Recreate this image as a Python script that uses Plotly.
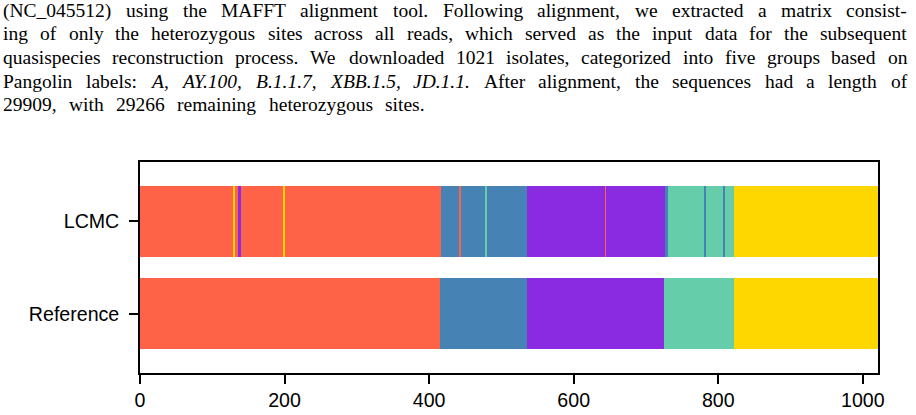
import plotly.graph_objects as go

# ---------------- data ----------------
groups = ["A", "AY.100", "B.1.1.7", "XBB.1.5", "JD.1.1"]
group_colors = ["tomato", "steelblue", "blueviolet", "mediumaquamarine", "gold"]
rows = ["Reference", "LCMC"]

# run-length encoding of per-isolate group labels (isolates ordered 0..1020)
reference_runs_group = ["A", "AY.100", "B.1.1.7", "XBB.1.5", "JD.1.1"]
reference_runs_len = [415, 121, 189, 97, 199]

lcmc_runs_group = ["A", "JD.1.1", "A", "B.1.1.7", "A", "JD.1.1", "A",
                   "AY.100", "A", "AY.100", "XBB.1.5", "AY.100",
                   "B.1.1.7", "A", "B.1.1.7",
                   "AY.100", "XBB.1.5", "AY.100", "XBB.1.5", "AY.100", "XBB.1.5",
                   "JD.1.1"]
lcmc_runs_len = [130, 2, 3, 5, 58, 2, 217,
                 24, 3, 33, 3, 55,
                 108, 2, 81,
                 5, 49, 3, 24, 3, 12,
                 199]

x_ticks = [0, 200, 400, 600, 800, 1000]
n_isolates = 1021

paragraph_lines = [
    "(NC_045512) using the MAFFT alignment tool. Following alignment, we extracted a matrix consist-",
    "ing of only the heterozygous sites across all reads, which served as the input data for the subsequent",
    "quasispecies reconstruction process. We downloaded 1021 isolates, categorized into five groups based on",
    "Pangolin labels: <i>A,</i> <i>AY.100,</i> <i>B.1.1.7,</i> <i>XBB.1.5,</i> <i>JD.1.1.</i> After alignment, the sequences had a length of",
    "29909, with 29266 remaining heterozygous sites.",
]

# ---------------- layout constants (pixels) ----------------
W, H = 916, 415
L, R, T, B = 140, 878, 162, 373
SANS = "Liberation Sans"
SANS_SIZE = 19.6
SERIF = "Liberation Serif"
SERIF_SIZE = 19.5
line_left = 3
line_right = [907, 907, 907, 907, 425]
line_base = [17.5, 40.5, 64.0, 87.6, 111.0]

# Times metrics (per 1000 em) for justification
roman = dict(zip("abcdefghijklmnopqrstuvwxyz",
                 [444, 500, 444, 500, 444, 333, 500, 500, 278, 278, 500, 278, 778,
                  500, 500, 500, 500, 333, 389, 278, 500, 500, 722, 500, 500, 444]))
roman.update({"A": 722, "B": 667, "C": 667, "D": 722, "F": 556, "J": 389, "L": 611,
              "M": 889, "N": 722, "P": 556, "T": 611, "W": 944, "X": 722, "Y": 722,
              "(": 333, ")": 333, "_": 500, ".": 250, ",": 250, ":": 278, "-": 333})
for d in "0123456789":
    roman[d] = 500
italic = dict(roman)
italic.update({"A": 611, "Y": 556, "B": 611, "X": 611, "J": 444, "D": 722})


def word_width(word):
    it = word.startswith("<i>")
    plain = word.replace("<i>", "").replace("</i>", "")
    tbl = italic if it else roman
    return sum(tbl.get(c, 500) for c in plain) / 1000.0 * SERIF_SIZE


def px_to_paper_x(px):
    return (px - L) / (R - L)


def px_to_paper_y(py):
    return (B - py) / (B - T)


# ---------------- figure ----------------
fig = go.Figure()

segments = {g: {"y": [], "base": [], "x": []} for g in groups}
for row, rg, rl in [("Reference", reference_runs_group, reference_runs_len),
                    ("LCMC", lcmc_runs_group, lcmc_runs_len)]:
    start = 0
    for g, n in zip(rg, rl):
        segments[g]["y"].append(row)
        segments[g]["base"].append(start)
        segments[g]["x"].append(n)
        start += n

for g, col in zip(groups, group_colors):
    s = segments[g]
    fig.add_trace(go.Bar(
        y=s["y"], x=s["x"], base=s["base"], orientation="h",
        marker=dict(color=col, line=dict(width=0)),
        width=0.765, name=g, showlegend=False,
    ))

annotations = []
for i, line in enumerate(paragraph_lines):
    words = line.split(" ")
    widths = [word_width(w) for w in words]
    total = line_right[i] - line_left
    gap = (total - sum(widths)) / (len(words) - 1) if len(words) > 1 else 0
    x = line_left
    for w, wd in zip(words, widths):
        annotations.append(dict(
            text=w, x=px_to_paper_x(x), y=px_to_paper_y(line_base[i] - 0.3375 * SERIF_SIZE),
            xref="paper", yref="paper", xanchor="left", yanchor="middle",
            showarrow=False, borderpad=0, borderwidth=0,
            font=dict(family=SERIF, size=SERIF_SIZE, color="black"),
        ))
        x += wd + gap

fig.update_layout(
    width=W, height=H,
    margin=dict(l=L, r=W - R, t=T, b=H - B, pad=0),
    paper_bgcolor="white", plot_bgcolor="white",
    barmode="overlay", bargap=0,
    annotations=annotations,
    font=dict(family=SANS, size=SANS_SIZE, color="black"),
    xaxis=dict(range=[0, n_isolates], tickvals=x_ticks, ticktext=[str(v) for v in x_ticks],
               showline=True, linecolor="black", linewidth=1.6, mirror=True,
               ticks="outside", ticklen=9, tickwidth=1.6, tickcolor="black",
               showgrid=False, zeroline=False, automargin=False,
               tickfont=dict(family=SANS, size=SANS_SIZE)),
    yaxis=dict(categoryorder="array", categoryarray=rows, range=[-0.64, 1.64],
               showline=True, linecolor="black", linewidth=1.6, mirror=True,
               ticks="outside", ticklen=9, tickwidth=1.6, tickcolor="black",
               showgrid=False, zeroline=False, automargin=False,
               tickfont=dict(family=SANS, size=SANS_SIZE), ticklabelstandoff=6),
)

fig.write_html("out.html")
